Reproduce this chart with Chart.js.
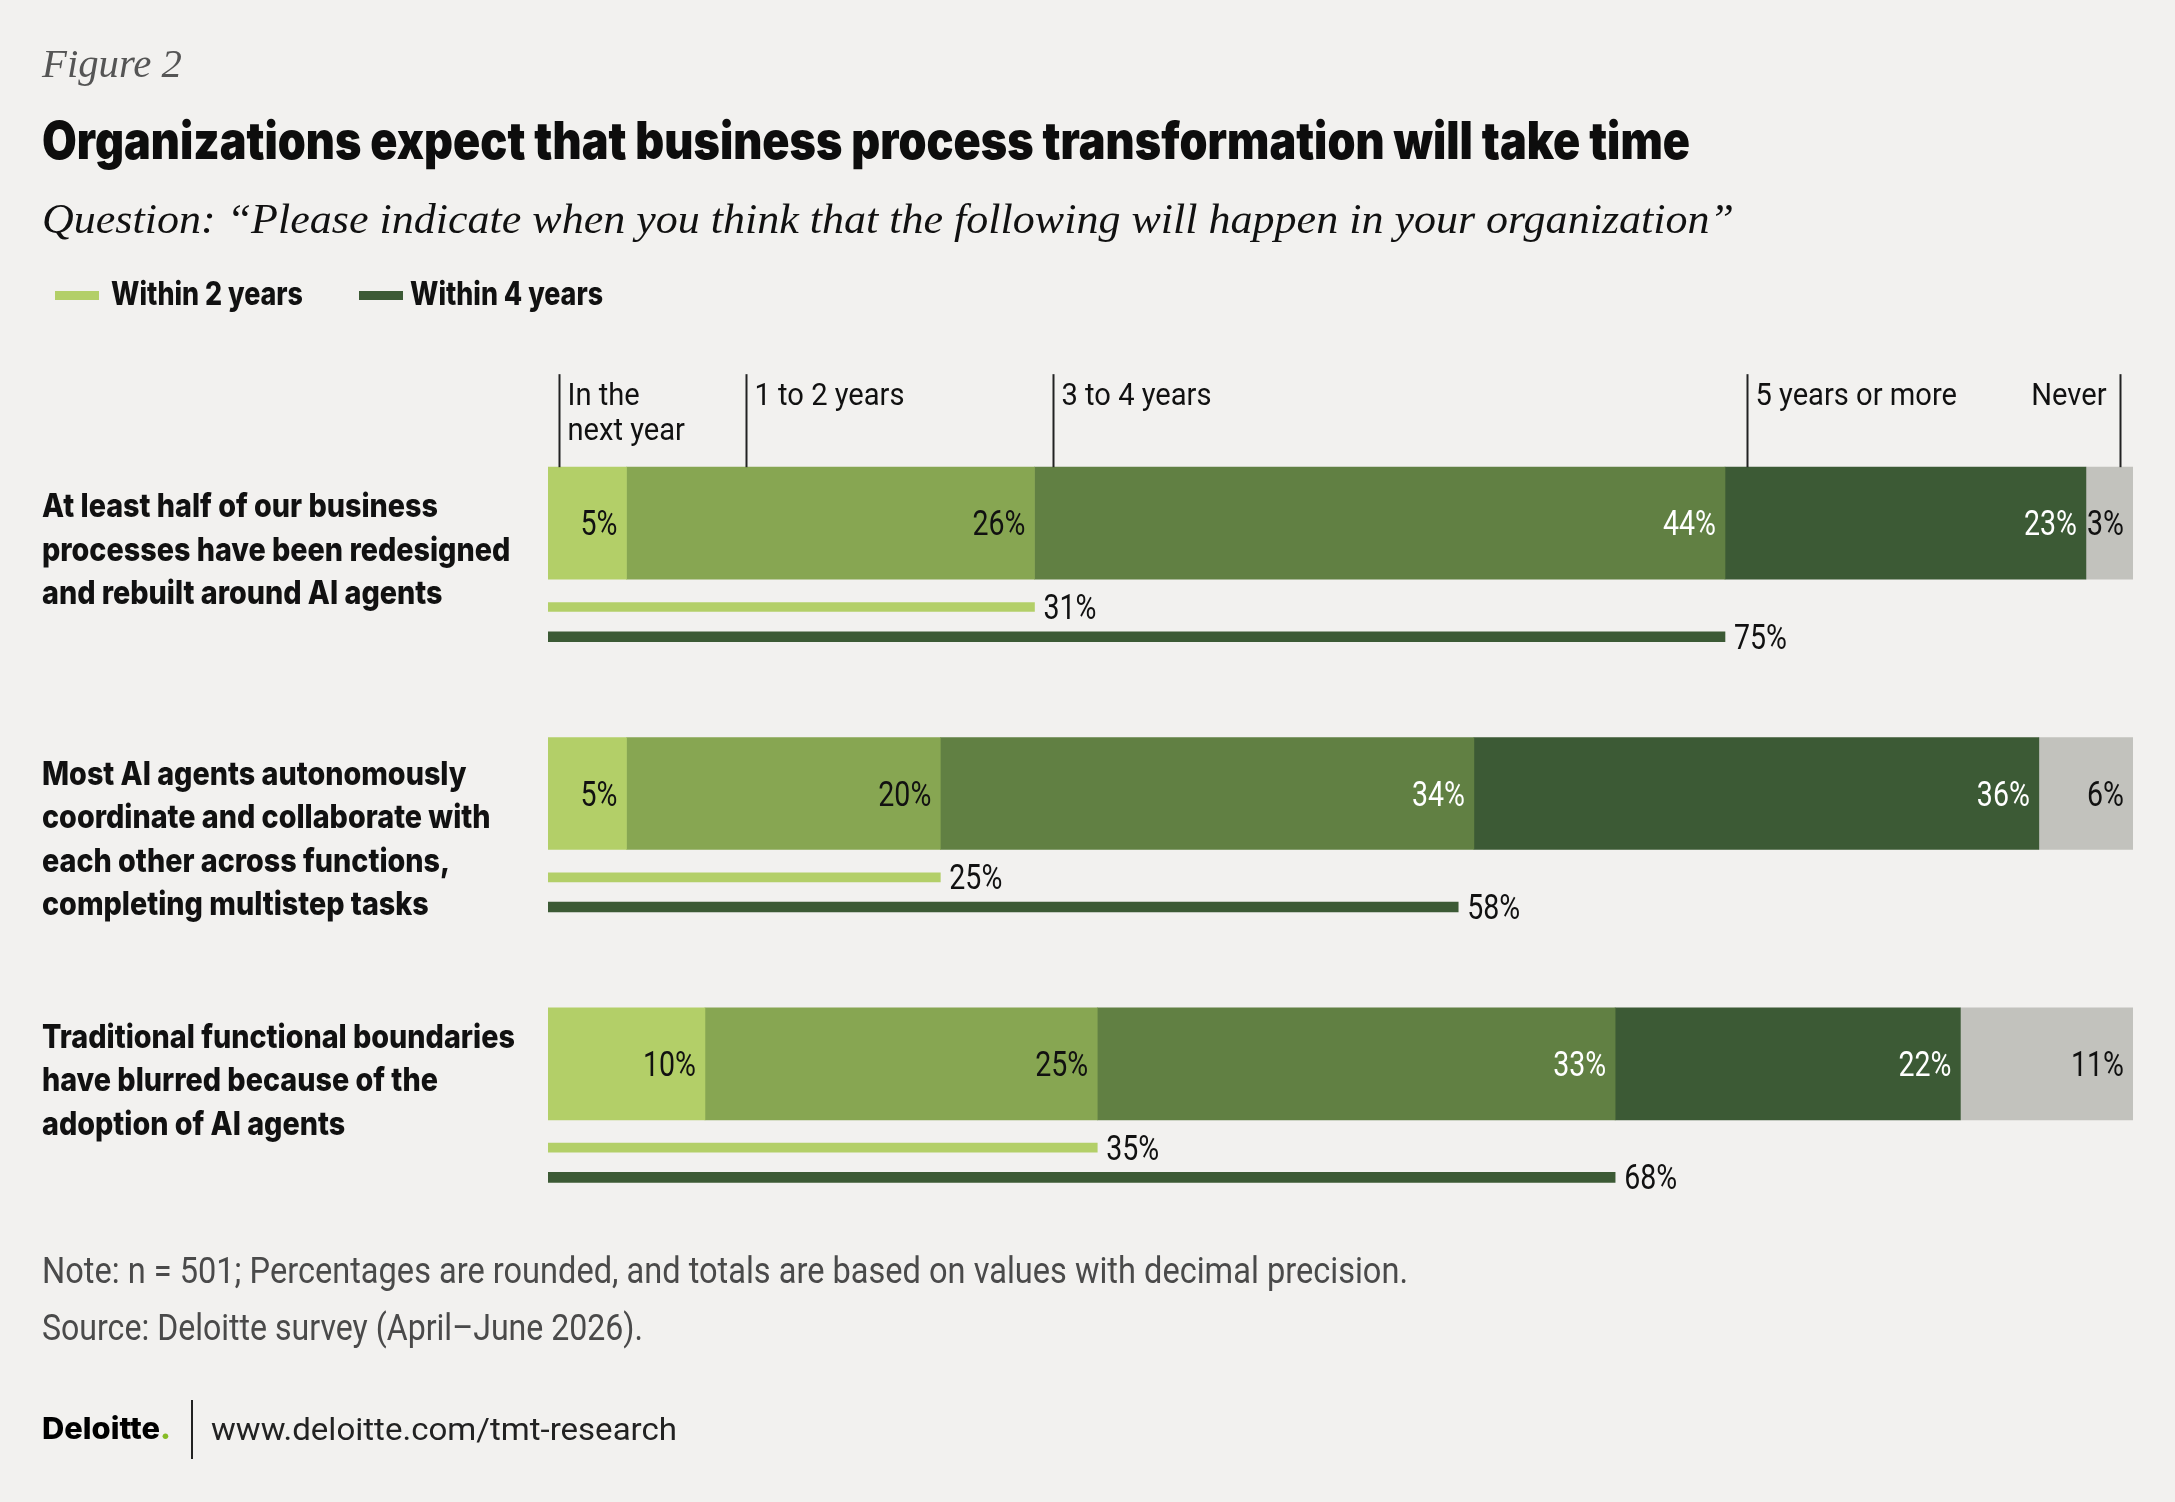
<!DOCTYPE html>
<html><head><meta charset="utf-8">
<script src="https://cdn.jsdelivr.net/npm/chart.js@4.4.1/dist/chart.umd.min.js"></script>
<style>
html,body{margin:0;padding:0;background:#f2f1ef;}
#wrap{position:relative;width:2175px;height:1502px;overflow:hidden;background:#f2f1ef;}
#c{position:absolute;left:0;top:0;}
.t{position:absolute;white-space:nowrap;transform-origin:0 0;line-height:1;}
.sans{font-family:Roboto,"Liberation Sans",Arial,sans-serif;}
.heavy{font-family:Inter,Roboto,sans-serif;font-weight:900;}
.lbl{font-family:Inter,Roboto,sans-serif;font-weight:800;}
.serif{font-family:"Liberation Serif","DejaVu Serif",serif;font-style:italic;}
.sw{position:absolute;height:9px;width:44px;}
</style></head><body>
<div id="wrap">
<canvas id="c" width="2175" height="1502"></canvas>
<div class="t serif fit" data-w="140" style="left:42px;top:44px;font-size:40px;color:#555;">Figure 2</div>
<div class="t heavy fit" data-w="1648" style="left:42px;top:115px;font-size:52px;color:#0d0d0d;">Organizations expect that business process transformation will take time</div>
<div class="t serif fit" data-w="1692" style="left:42px;top:198px;font-size:42px;color:#111;">Question: “Please indicate when you think that the following will happen in your organization”</div>
<div class="sw" style="left:55px;top:291px;background:#b3cf68;"></div>
<div class="t lbl fit" id="lg1" data-w="192" style="left:111px;top:278px;font-size:32px;color:#111;"></div>
<div class="sw" style="left:359px;top:291px;background:#3c5a35;"></div>
<div class="t lbl fit" id="lg2" data-w="193" style="left:410px;top:278px;font-size:32px;color:#111;"></div>
<div class="t sans fit" data-w="1366" style="left:42px;top:1252px;font-size:37px;color:#4a4a4a;">Note: n = 501; Percentages are rounded, and totals are based on values with decimal precision.</div>
<div class="t sans fit" data-w="601" style="left:42px;top:1309px;font-size:37px;color:#4a4a4a;">Source: Deloitte survey (April–June 2026).</div>
<div class="t lbl fit" data-w="129" style="left:42px;top:1413px;font-size:30px;color:#000;">Deloitte<span style="color:#86bc25">.</span></div>
<div style="position:absolute;left:191px;top:1400px;width:2px;height:59px;background:#222;"></div>
<div class="t sans fit" data-w="466" style="left:211px;top:1413px;font-size:32px;color:#222;">www.deloitte.com/tmt-research</div>
</div>
<script>
// ---- data ----
const categories = [
  ["At least half of our business","processes have been redesigned","and rebuilt around AI agents"],
  ["Most AI agents autonomously","coordinate and collaborate with","each other across functions,","completing multistep tasks"],
  ["Traditional functional boundaries","have blurred because of the","adoption of AI agents"]
];
const periodLabels = ["In the next year","1 to 2 years","3 to 4 years","5 years or more","Never"];
const headerLabels = [["In the","next year"],["1 to 2 years"],["3 to 4 years"],["5 years or more"],["Never"]];
const nextYear    = [5, 5, 10];
const oneToTwo    = [26, 20, 25];
const threeToFour = [44, 34, 33];
const fivePlus    = [23, 36, 22];
const never       = [3, 6, 11];
const within2     = [31, 25, 35];
const within4     = [75, 58, 68];
const legendLabels = ["Within 2 years","Within 4 years"];

document.getElementById('lg1').textContent = legendLabels[0];
document.getElementById('lg2').textContent = legendLabels[1];

// ---- style / layout ----
const segColors = ["#b3cf68","#87a652","#618043","#3c5a35","#c2c2bd"];
const segText = ["#111","#111","#fff","#fff","#111"];
const headerAt = [0.67, 12.6, 32.2, 76.4, 100.2];
const labelFirstOffset = [50, 47, 40];
const SANS = 'Roboto, "Liberation Sans", Arial, sans-serif';
const LBL = 'Inter, Roboto, sans-serif';

const segments = [nextYear, oneToTwo, threeToFour, fivePlus, never];
const cum = categories.map(() => 0);
const datasets = segments.map((vals, k) => ({
  label: periodLabels[k],
  data: vals.map((v, i) => { const s = cum[i]; cum[i] += v; return {y: i, x: [s, s + v], v: v}; }),
  backgroundColor: segColors[k], barThickness: 112, grouped: false, borderWidth: 0, kind: 'seg', seg: k
}));
datasets.push({label: legendLabels[0], data: within2.map((v, i) => ({y: i + 0.31, x: [0, v], v: v})),
  backgroundColor: "#b3cf68", barThickness: 9, grouped: false, borderWidth: 0, kind: 'thin'});
datasets.push({label: legendLabels[1], data: within4.map((v, i) => ({y: i + 0.42, x: [0, v], v: v})),
  backgroundColor: "#3c5a35", barThickness: 10, grouped: false, borderWidth: 0, kind: 'thin'});

function condText(ctx, text, x, y, align, font, color, sx) {
  ctx.save();
  ctx.font = font; ctx.fillStyle = color; ctx.textAlign = align; ctx.textBaseline = 'alphabetic';
  ctx.translate(x, y); ctx.scale(sx, 1); ctx.fillText(text, 0, 0);
  ctx.restore();
}
function fitScale(ctx, font, sample, target) {
  ctx.save(); ctx.font = font; const w = ctx.measureText(sample).width; ctx.restore();
  return target / w;
}

const textPlugin = {
  id: 'texts',
  afterDatasetsDraw(chart) {
    const ctx = chart.ctx, xs = chart.scales.x;
    const valFont = '35px ' + SANS;
    const hdrFont = '31px ' + SANS;
    const lblFont = '800 33px ' + LBL;
    const sVal = fitScale(ctx, valFont, "23%", 53);
    const sHdr = fitScale(ctx, hdrFont, "1 to 2 years", 150);
    const sLbl = fitScale(ctx, lblFont, categories[0][0], 396);
    chart.data.datasets.forEach((ds, di) => {
      const meta = chart.getDatasetMeta(di);
      meta.data.forEach((el, i) => {
        const p = el.getProps(['x', 'base', 'y', 'height'], true);
        const v = ds.data[i].v;
        if (ds.kind === 'seg') {
          condText(ctx, v + '%', p.x - 9, p.y + 12, 'right', valFont, segText[ds.seg], sVal);
        } else {
          condText(ctx, v + '%', p.x + 9, p.y + 12, 'left', valFont, '#111', sVal);
        }
      });
    });
    // header ticks and labels
    const first = chart.getDatasetMeta(0).data[0].getProps(['y', 'height'], true);
    const top = first.y - first.height / 2;
    ctx.save(); ctx.strokeStyle = '#222'; ctx.lineWidth = 2;
    headerAt.forEach((h, k) => {
      const x = Math.round(xs.getPixelForValue(h)) + 0.5;
      ctx.beginPath(); ctx.moveTo(x, top - 93); ctx.lineTo(x, top); ctx.stroke();
      headerLabels[k].forEach((line, j) => {
        const last = k === headerAt.length - 1;
        condText(ctx, line, last ? x - 14 : x + 8, top - 62 + j * 35, last ? 'right' : 'left', hdrFont, '#111', sHdr);
      });
    });
    ctx.restore();
    // row labels
    const meta0 = chart.getDatasetMeta(0);
    categories.forEach((lines, i) => {
      const p = meta0.data[i].getProps(['y', 'height'], true);
      const t = p.y - p.height / 2;
      lines.forEach((line, j) => {
        condText(ctx, line, 42, t + labelFirstOffset[i] + j * 43.5, 'left', lblFont, '#111', sLbl);
      });
    });
  }
};

new Chart(document.getElementById('c'), {
  type: 'bar',
  data: {datasets: datasets},
  options: {
    indexAxis: 'y', responsive: false, animation: false, devicePixelRatio: 1,
    layout: {padding: {left: 548, right: 42, top: 388, bottom: 303}},
    scales: {
      x: {type: 'linear', min: 0, max: 101, display: false, offset: false},
      y: {type: 'linear', min: -0.5, max: 2.5, reverse: true, display: false, offset: false}
    },
    plugins: {legend: {display: false}, tooltip: {enabled: false}}
  },
  plugins: [textPlugin]
});

document.querySelectorAll('.fit').forEach(el => {
  const w = +el.dataset.w;
  const r = el.getBoundingClientRect().width;
  if (r > 0) el.style.transform = 'scaleX(' + (w / r) + ')';
});
</script>
</body></html>
